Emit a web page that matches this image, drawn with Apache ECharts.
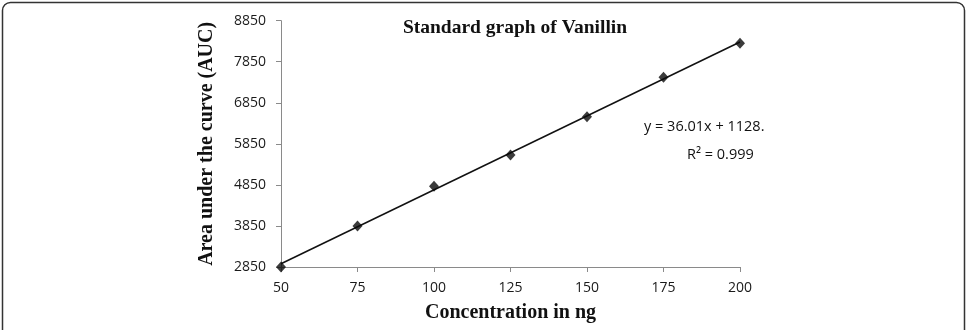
<!DOCTYPE html>
<html><head><meta charset="utf-8">
<script src="https://cdn.jsdelivr.net/npm/echarts@6/dist/echarts.min.js"></script>
<style>html,body{margin:0;padding:0;background:#fff}#c{width:971px;height:330px}</style>
</head><body><div id="c"></div>
<script>
const concentrations = [50, 75, 100, 125, 150, 175, 200];
const aucValues = [2850, 3850, 4820, 5580, 6510, 7470, 8300];
const yTicks = [2850, 3850, 4850, 5850, 6850, 7850, 8850];
const xTicks = [50, 75, 100, 125, 150, 175, 200];
const trendSlope = 36.01, trendIntercept = 1128;
const trendX = [50, 200];

const chart = echarts.init(document.getElementById('c'), null, {renderer: 'canvas'});
const axisColor = '#8a8a8a';
const labelFont = {color: '#1a1a1a', fontFamily: 'Open Sans', fontSize: 14, formatter: v => String(v)};
chart.setOption({
  animation: false,
  title: {
    text: 'Standard graph of Vanillin', left: 510, top: 13, textAlign: 'center',
    textStyle: {fontFamily: 'Liberation Serif', fontWeight: 'bold', fontSize: 19.5, color: '#111'}
  },
  graphic: [{
    type: 'rect', shape: {x: 2.5, y: 2.5, width: 962, height: 340, r: 8},
    style: {fill: 'none', stroke: '#333', lineWidth: 1.5}, silent: true, z: -1
  }, {
    type: 'text', left: 644, top: 119,
    style: {text: 'y = 36.01x + 1128.', font: '14.5px "Open Sans"', fill: '#111'}
  }, {
    type: 'text', left: 687, top: 147,
    style: {text: 'R² = 0.999', font: '14.5px "Open Sans"', fill: '#111'}
  }],
  grid: {left: 281, right: 231, top: 20.7, bottom: 63, containLabel: false},
  xAxis: {
    type: 'value', min: 50, max: 200,
    name: 'Concentration in ng', nameLocation: 'middle', nameGap: 36,
    nameTextStyle: {fontFamily: 'Liberation Serif', fontWeight: 'bold', fontSize: 20, color: '#111'},
    axisLine: {show: true, lineStyle: {color: axisColor}},
    axisTick: {show: true, length: 5, customValues: xTicks, lineStyle: {color: axisColor}},
    axisLabel: Object.assign({margin: 14, customValues: xTicks}, labelFont),
    splitLine: {show: false}
  },
  yAxis: {
    type: 'value', min: 2850, max: 8850,
    name: 'Area under the curve (AUC)', nameLocation: 'middle', nameGap: 64, nameRotate: 90,
    nameTextStyle: {fontFamily: 'Liberation Serif', fontWeight: 'bold', fontSize: 20, color: '#111'},
    axisLine: {show: true, lineStyle: {color: axisColor}},
    axisTick: {show: true, length: 5, customValues: yTicks, lineStyle: {color: axisColor}},
    axisLabel: Object.assign({margin: 15, customValues: yTicks}, labelFont),
    splitLine: {show: false}
  },
  series: [{
    type: 'line', data: trendX.map(x => [x, trendSlope * x + trendIntercept]),
    symbol: 'none', lineStyle: {color: '#111', width: 1.5}, z: 2
  }, {
    type: 'scatter', data: concentrations.map((x, i) => [x, aucValues[i]]),
    symbol: 'diamond', symbolSize: [10, 11], itemStyle: {color: '#0a0a0a'}, z: 3
  }]
});
</script></body></html>
